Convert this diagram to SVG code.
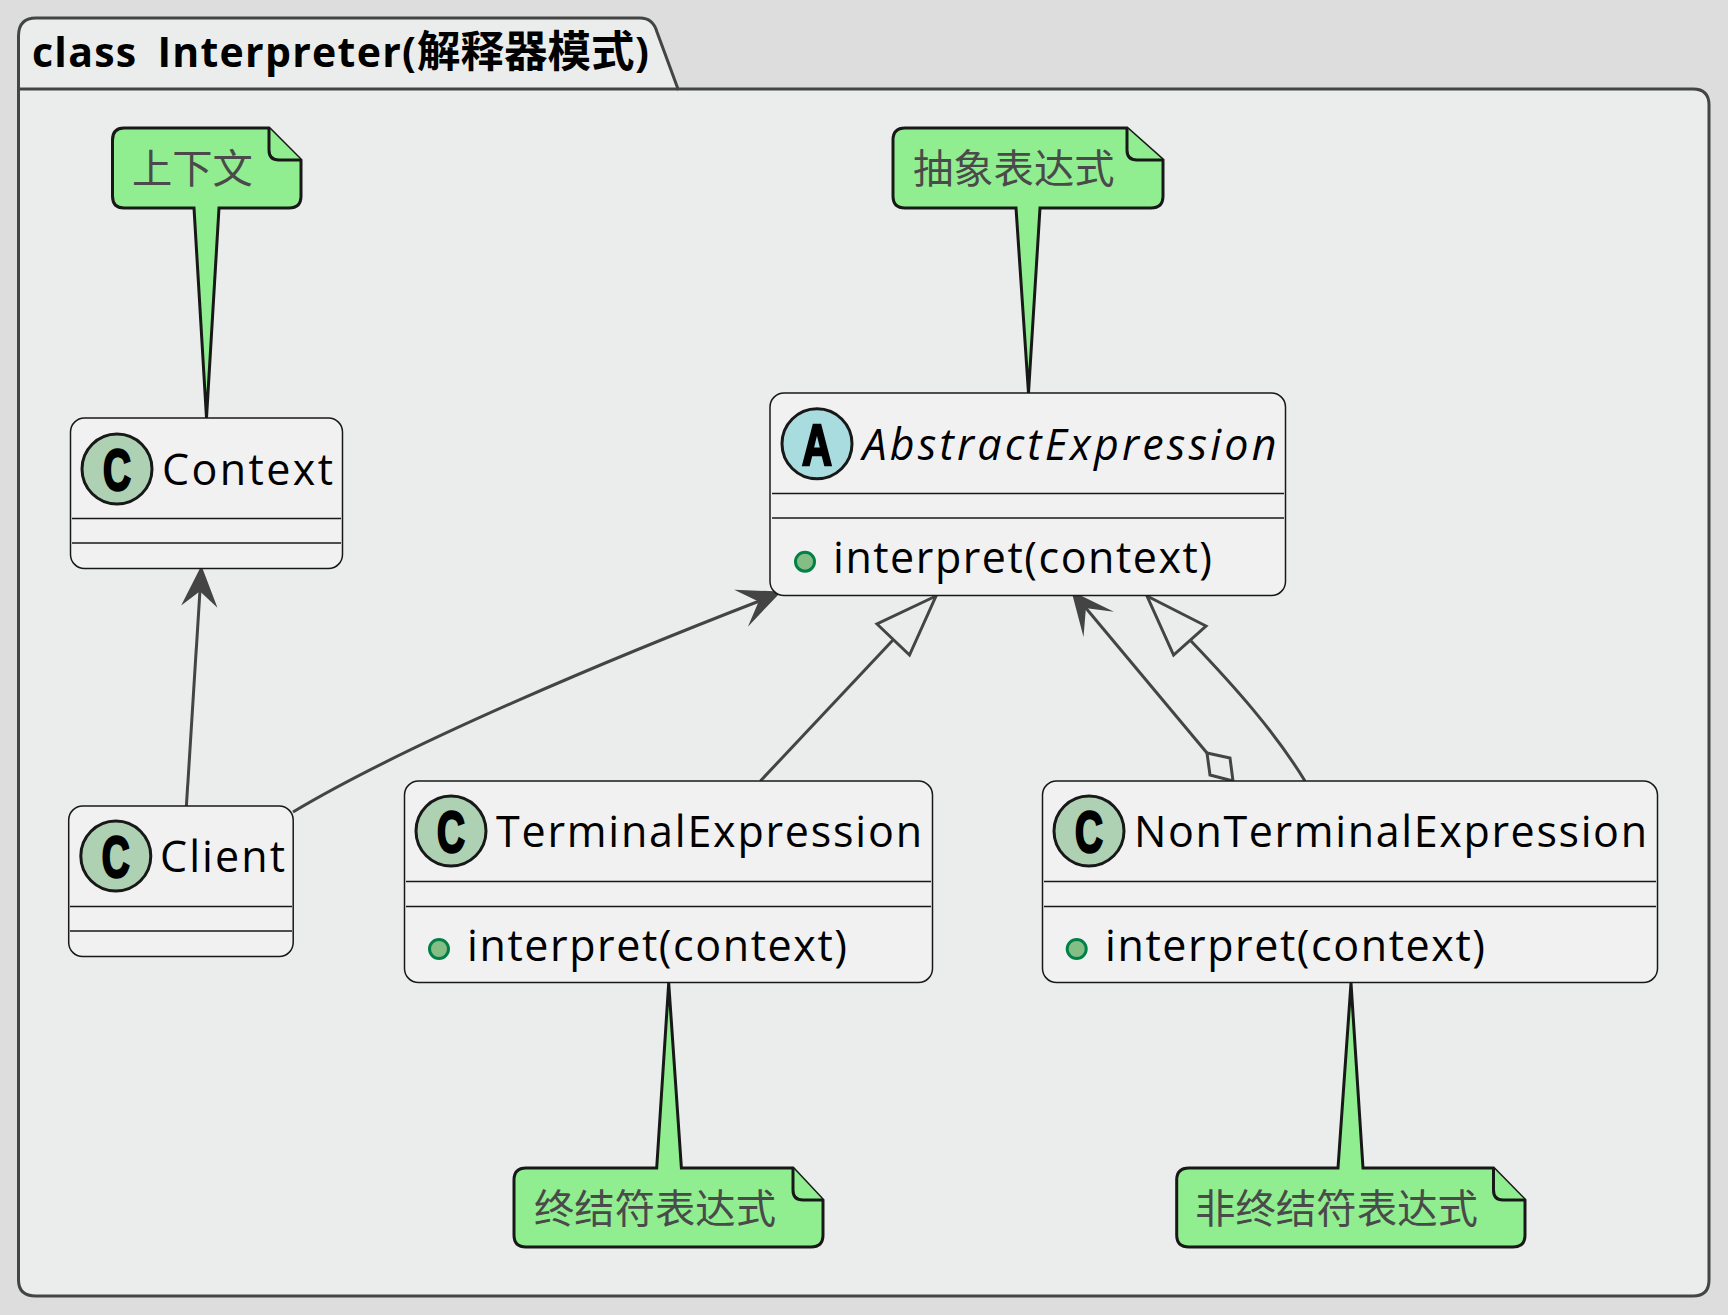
<svg xmlns="http://www.w3.org/2000/svg" width="1728" height="1315" viewBox="0 0 1728 1315">
<style>
.box{fill:#F1F1F1;stroke:#181818;stroke-width:1.5}
.sep{stroke:#181818;stroke-width:1.5;fill:none}
.cn{font-family:"Open Sans","DejaVu Sans",sans-serif;font-size:43px;fill:#000}
.it{font-style:italic}
.cc{fill:#ADD1B2;stroke:#181818;stroke-width:3}
.ca{fill:#A9DCDF;stroke:#181818;stroke-width:3}
.gl{font-family:"Liberation Sans",sans-serif;font-weight:700;font-size:58px;fill:#000;stroke:#000;stroke-width:2.5;text-anchor:middle}
.pub{fill:#84BE84;stroke:#038048;stroke-width:3}
.note{fill:#90EE90;stroke:#181818;stroke-width:3;stroke-linejoin:miter;stroke-miterlimit:12}
.nt{font-family:"Noto Sans CJK SC",sans-serif;font-size:40.3px;fill:#4a4a4a}
.ln{fill:none;stroke:#444;stroke-width:3}
.solid{fill:#444;stroke:#444;stroke-width:2;stroke-linejoin:miter;stroke-miterlimit:12}
.open{fill:none;stroke:#444;stroke-width:3;stroke-linejoin:miter;stroke-miterlimit:12}
</style>
<rect width="1728" height="1315" fill="#DDDDDD"/>
<g id="package">
<path d="M18.5,36 Q18.5,18 36,18 L640,18 Q653,18 657,32 L678,89 L1693,89 Q1709,89 1709,105 L1709,1280 Q1709,1296 1693,1296 L36,1296 Q18.5,1296 18.5,1280 Z" fill="#EBEDEC" stroke="#444" stroke-width="3"/>
<path d="M18.5,89 L678,89" fill="none" stroke="#444" stroke-width="3"/>
<text x="32" y="67" font-family="'Open Sans','Noto Sans CJK SC',sans-serif" font-weight="700" font-size="41" word-spacing="8"><tspan textLength="384" lengthAdjust="spacing">class Interpreter(</tspan><tspan x="417" font-family="'Noto Sans CJK SC',sans-serif" font-size="43.5">解释器模式</tspan><tspan x="635">)</tspan></text>
</g>
<g id="connectors">
<path class="ln" d="M186.4,806 L200,590"/>
<path class="solid" d="M201.3,568 L215,604 L200,590 L184,602 Z"/>
<path class="ln" d="M293,812 C410,742 620,655 762,600"/>
<path class="solid" d="M779,592.5 L751,622 L760,601 L739,591 Z"/>
<path class="ln" d="M760.4,781 L893,640"/>
<path class="open" d="M936,596 L877,624 L909.5,655 Z"/>
<path class="ln" d="M1207,753 L1085,607"/>
<path class="solid" d="M1073,593 L1108,610 L1085,607 L1083,631 Z"/>
<path class="open" d="M1207,753 L1230,758 L1233,781 L1210,775 Z"/>
<path class="ln" d="M1305,781 C1275,732 1235,687 1191,641"/>
<path class="open" d="M1147,596 L1206,626 L1173.6,655 Z"/>
</g>
<g id="Context">
<rect class="box" x="70.5" y="418" width="272" height="150.5" rx="14"/>
<circle class="cc" cx="117" cy="469" r="35"/>
<text class="gl" x="117" y="490" textLength="28" lengthAdjust="spacingAndGlyphs">C</text>
<text class="cn" x="162" y="485" textLength="171" lengthAdjust="spacing">Context</text>
<path class="sep" d="M72,518.5 H341 M72,543 H341"/>
</g>
<g id="AbstractExpression">
<rect class="box" x="770" y="393" width="515.5" height="202.5" rx="14"/>
<circle class="ca" cx="817" cy="443.7" r="35"/>
<text class="gl" x="817" y="465" textLength="30" lengthAdjust="spacingAndGlyphs">A</text>
<text class="cn it" x="862.5" y="460" textLength="414" lengthAdjust="spacing">AbstractExpression</text>
<path class="sep" d="M772,493.5 H1284 M772,518 H1284"/>
<circle class="pub" cx="805" cy="561.7" r="9.5"/>
<text class="cn" x="833" y="572.7" textLength="379" lengthAdjust="spacing">interpret(context)</text>
</g>
<g id="Client">
<rect class="box" x="68.7" y="806" width="224.5" height="150.5" rx="14"/>
<circle class="cc" cx="115.8" cy="856" r="35"/>
<text class="gl" x="115.8" y="877" textLength="28" lengthAdjust="spacingAndGlyphs">C</text>
<text class="cn" x="160" y="872" textLength="125" lengthAdjust="spacing">Client</text>
<path class="sep" d="M70,906.5 H292 M70,931 H292"/>
</g>
<g id="TerminalExpression">
<rect class="box" x="404.5" y="781" width="528" height="201.5" rx="14"/>
<circle class="cc" cx="451" cy="831" r="35"/>
<text class="gl" x="451" y="852" textLength="28" lengthAdjust="spacingAndGlyphs">C</text>
<text class="cn" x="496" y="847.3" textLength="426" lengthAdjust="spacing">TerminalExpression</text>
<path class="sep" d="M406,881.5 H931 M406,906.5 H931"/>
<circle class="pub" cx="439" cy="949" r="9.5"/>
<text class="cn" x="467" y="961" textLength="380" lengthAdjust="spacing">interpret(context)</text>
</g>
<g id="NonTerminalExpression">
<rect class="box" x="1042.5" y="781" width="615" height="201.5" rx="14"/>
<circle class="cc" cx="1089" cy="831" r="35"/>
<text class="gl" x="1089" y="852" textLength="28" lengthAdjust="spacingAndGlyphs">C</text>
<text class="cn" x="1134" y="847.3" textLength="513" lengthAdjust="spacing">NonTerminalExpression</text>
<path class="sep" d="M1044,881.5 H1656 M1044,906.5 H1656"/>
<circle class="pub" cx="1076.7" cy="949" r="9.5"/>
<text class="cn" x="1105" y="961" textLength="380" lengthAdjust="spacing">interpret(context)</text>
</g>
<g id="note-context">
<path class="note" d="M124,128 L269,128 L301,160 L301,196 Q301,208 289,208 L219,208 L206.5,418 L194,208 L124,208 Q112.5,208 112.5,196 L112.5,140 Q112.5,128 124,128 Z"/>
<path class="note" d="M269,128 L269,150 Q269,160 279,160 L301,160" fill="none"/>
<text class="nt" x="132" y="183">上下文</text>
</g>
<g id="note-abstract">
<path class="note" d="M905,128 L1127,128 L1163,160 L1163,196 Q1163,208 1151,208 L1040,208 L1028.5,393 L1016,208 L905,208 Q893,208 893,196 L893,140 Q893,128 905,128 Z"/>
<path class="note" d="M1127,128 L1127,150 Q1127,160 1137,160 L1163,160" fill="none"/>
<text class="nt" x="913" y="183">抽象表达式</text>
</g>
<g id="note-terminal">
<path class="note" d="M526,1168 L656.7,1168 L668.7,983 L681.4,1168 L793,1168 L823,1200 L823,1235 Q823,1247 811,1247 L526,1247 Q514,1247 514,1235 L514,1180 Q514,1168 526,1168 Z"/>
<path class="note" d="M793,1168 L793,1190 Q793,1200 803,1200 L823,1200" fill="none"/>
<text class="nt" x="534" y="1223" textLength="242" lengthAdjust="spacingAndGlyphs">终结符表达式</text>
</g>
<g id="note-nonterminal">
<path class="note" d="M1189,1168 L1338,1168 L1351,983 L1363,1168 L1493.5,1168 L1525,1200 L1525,1235 Q1525,1247 1513,1247 L1189,1247 Q1176.7,1247 1176.7,1235 L1176.7,1180 Q1176.7,1168 1189,1168 Z"/>
<path class="note" d="M1493.5,1168 L1493.5,1190 Q1493.5,1200 1503,1200 L1525,1200" fill="none"/>
<text class="nt" x="1195" y="1223" textLength="283" lengthAdjust="spacingAndGlyphs">非终结符表达式</text>
</g>
</svg>
